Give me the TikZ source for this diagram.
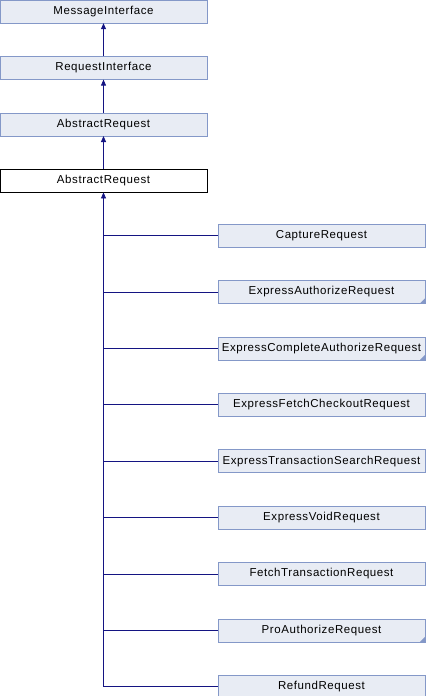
\documentclass[tikz,border=0pt]{standalone}
\usepackage{fontspec}
\setmainfont{Liberation Sans}
\newfontfamily\classfont[LetterSpace=5]{Liberation Sans}
\usetikzlibrary{arrows.meta,positioning}
\definecolor{classfill}{RGB}{232,236,244}
\definecolor{classdraw}{RGB}{132,152,200}
\definecolor{edgeblue}{RGB}{20,20,130}

\begin{document}
\begin{tikzpicture}[x=1pt,y=-1pt,node distance=33pt,
  >={Triangle[length=6pt,width=5pt]},font=\classfont\fontsize{11.5}{13}\selectfont]

  \tikzstyle{class}=[rectangle,draw=classdraw,fill=classfill,
                     minimum width=207pt,minimum height=23pt,inner sep=0pt]
  \tikzstyle{this class}=[class,draw=black,fill=white]
  \tikzstyle{more}=[class,path picture={
      \fill[classdraw] (path picture bounding box.south east)
        ++(-5pt,0) -- ++(5pt,0) -- ++(0,5pt) -- cycle;}]
  \tikzstyle{inherit}=[edgeblue,thick]

  \useasboundingbox (0,0) rectangle (426,696);

  % base classes
  \node [class]      (msg) at (103.5,11.5)  {MessageInterface};
  \node [class]      (req) [below=of msg]   {RequestInterface};
  \node [class]      (base) [below=of req]  {AbstractRequest};
  \node [this class] (abs) [below=of base]  {AbstractRequest};

  \draw [inherit,->] (req) -- (msg);
  \draw [inherit,->] (base) -- (req);
  \draw [inherit,->] (abs) -- (base);

  % derived classes
  \node [class] (capture)   at (321.5,235.5)    {CaptureRequest};
  \node [more]  (exauth)    [below=of capture]  {ExpressAuthorizeRequest};
  \node [more]  (excomp)    [below=of exauth]   {ExpressCompleteAuthorizeRequest};
  \node [class] (exfetch)   [below=of excomp]   {ExpressFetchCheckoutRequest};
  \node [class] (exsearch)  [below=of exfetch]  {ExpressTransactionSearchRequest};
  \node [class] (exvoid)    [below=of exsearch] {ExpressVoidRequest};
  \node [class] (fetch)     [below=of exvoid]   {FetchTransactionRequest};
  \node [more]  (proauth)   [below=of fetch]    {ProAuthorizeRequest};
  \node [class] (refund)    [below=of proauth]  {RefundRequest};

  \draw [inherit,->] (refund.west) -| (abs.south);
  \foreach \c in {capture,exauth,excomp,exfetch,exsearch,exvoid,fetch,proauth}
    \draw [inherit] (\c.west) -- (\c.west -| abs.south);
\end{tikzpicture}
\end{document}
